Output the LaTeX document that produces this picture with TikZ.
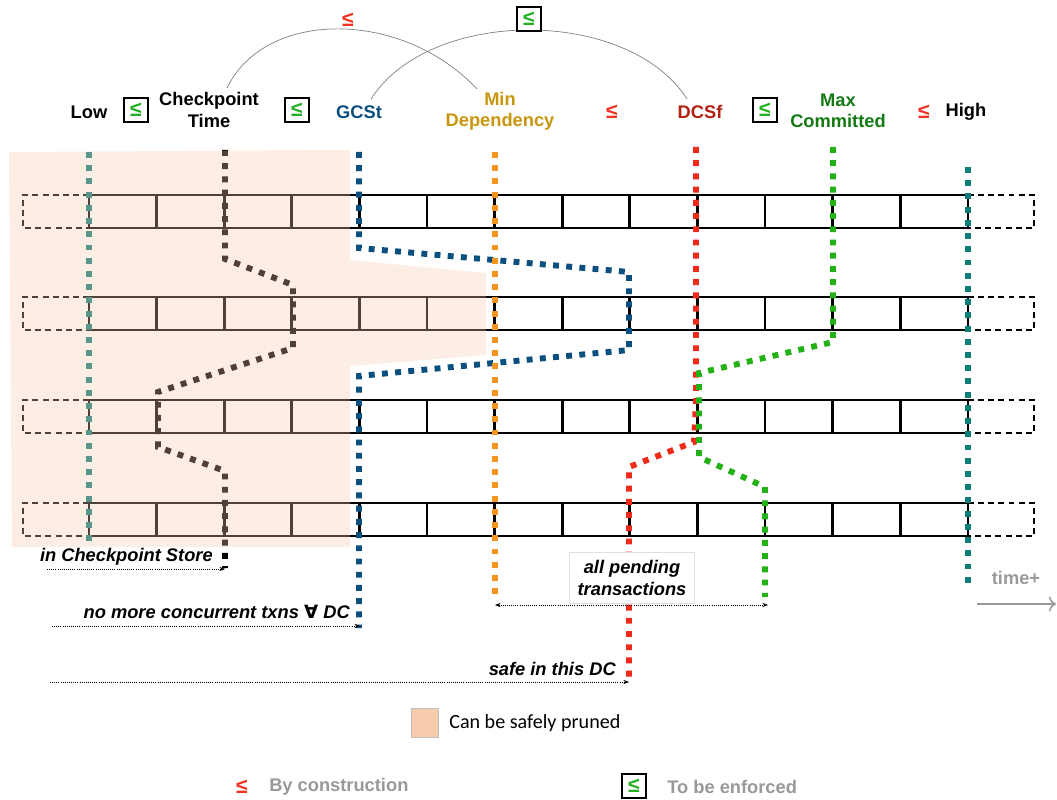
\documentclass[tikz,border=0pt]{standalone}
\usepackage{fontspec}
\setmainfont{Liberation Sans}
\newfontfamily\symfont{DejaVu Sans}
\newfontfamily\calfont{Carlito}
\usetikzlibrary{arrows.meta}

\definecolor{lowteal}{HTML}{0E7C78}
\definecolor{gcstblue}{HTML}{0A4F7E}
\definecolor{deporange}{HTML}{F7941D}
\definecolor{dcsred}{HTML}{EE2A1B}
\definecolor{maxgreen}{HTML}{22B217}
\definecolor{deptext}{HTML}{C8960C}
\definecolor{dcstext}{HTML}{B22011}
\definecolor{maxtext}{HTML}{137A13}
\definecolor{leqred}{HTML}{EE3322}
\definecolor{leqgreen}{HTML}{22B022}
\definecolor{peach}{HTML}{F8CBAD}
\definecolor{legendgray}{HTML}{999999}

\newcommand{\lblsize}{\fontsize{13pt}{15pt}\selectfont}
\newcommand{\leqsize}{\fontsize{15pt}{15pt}\selectfont}

\begin{document}
\begin{tikzpicture}[x=0.025cm, y=-0.025cm,
  lbl/.style={font=\bfseries\lblsize, align=center, inner sep=0pt},
  note/.style={font=\bfseries\itshape\lblsize, inner sep=0pt},
  rowline/.style={line width=2.1pt},
  ghost/.style={line width=2.1pt, dash pattern=on 4.2pt off 3pt},
  dotline/.style={line width=4.2pt, dash pattern=on 4.2pt off 5.2pt},
  arc/.style={gray, line width=0.5pt},
  lenote/.style={line width=0.5pt, densely dotted, -{Stealth[length=4pt]}},
  byc/.style={text=leqred, font=\bfseries\leqsize, inner sep=0pt},
  enf/.style={draw, line width=1.2pt, fill=white, minimum size=0.6cm, inner sep=0pt,
              text=leqgreen, font=\bfseries\leqsize}]

  \useasboundingbox (0,0) rectangle (1057,800);

  % Rows of slots
  \foreach \yt in {195,297,400,503} {
    \draw[rowline] (89,\yt) rectangle (968,\yt+33);
    \foreach \k in {1,...,12}
      \draw[rowline] (89+67.6*\k,\yt) -- (89+67.6*\k,\yt+33);
    \draw[ghost] (89,\yt) -- (23,\yt) -- (23,\yt+33) -- (89,\yt+33);
    \draw[ghost] (968,\yt) -- (1034,\yt) -- (1034,\yt+33) -- (968,\yt+33);
  }

  % Cuts
  \draw[dotline, lowteal] (89,152) -- (89,545);
  \draw[dotline, lowteal] (968,167) -- (968,587);
  \draw[dotline, black] (225,150) -- (225,259) -- (293,285) -- (293,348) -- (158,392)
    -- (158,447) -- (225,471) -- (225,568);
  \draw[dotline, gcstblue] (359,152) -- (359,248) -- (629,272) -- (629,350) -- (359,376)
    -- (359,628);
  \draw[dotline, deporange] (495,152) -- (495,598);
  \draw[dotline, dcsred] (696,147) -- (696,400) -- (694,442) -- (629,467) -- (629,682);
  \draw[dotline, maxgreen] (833,147) -- (833,342) -- (699,373) -- (699,457) -- (765,487)
    -- (765,597);

  % Pruned area
  \fill[peach, fill opacity=0.32] (9,152) -- (350,150) -- (350,260) -- (486,273)
    -- (486,355) -- (350,366) -- (350,547) -- (12,547) -- cycle;

  % Labels
  \node[lbl] (low) at (89,112) {Low};
  \node[enf] (le1) at (136,110) {≤};
  \node[lbl] (ckpt) at (209,110) {Checkpoint\\Time};
  \node[enf] (le2) at (297,110) {≤};
  \node[lbl, text=gcstblue] (gcst) at (359,112) {GCSt};
  \node[lbl, text=deptext] (mindep) at (500,111) {Min\\Dependency};
  \node[byc] (le3) at (612,112) {≤};
  \node[lbl, text=dcstext] (dcsf) at (700,112) {DCSf};
  \node[enf] (le4) at (765,110) {≤};
  \node[lbl, text=maxtext] (maxc) at (838,111) {Max\\Committed};
  \node[byc] (le5) at (924,112) {≤};
  \node[lbl] (high) at (966,112) {High};

  % Arcs between non adjacent bounds
  \coordinate (A1) at (227,88);
  \coordinate (A2) at (477,89);
  \coordinate (B1) at (371,99);
  \coordinate (B2) at (687,99);
  \draw[arc] (A1) .. controls (265,9) and (402,9) .. (A2);
  \node[byc] (top1) at (348,20) {≤};
  \draw[arc] (B1) .. controls (430,7) and (628,7) .. (B2);
  \node[enf] (top2) at (529,19) {≤};

  % Notes
  \coordinate (n1a) at (47,569);
  \coordinate (n1b) at (225,569);
  \draw[lenote] (n1a) -- (n1b);
  \node[note, anchor=east] (n1) at (213,557) {in Checkpoint Store};
  \coordinate (n2a) at (52,626);
  \coordinate (n2b) at (360,626);
  \draw[lenote] (n2a) -- (n2b);
  \node[note, anchor=east] (n2) at (350,612) {no more concurrent txns {\symfont ∀} DC};
  \coordinate (n3a) at (50,682);
  \coordinate (n3b) at (629,682);
  \draw[lenote] (n3a) -- (n3b);
  \node[note, anchor=east] (n3) at (616,669) {safe in this DC};
  \coordinate (n4a) at (495,605);
  \coordinate (n4b) at (768,605);
  \draw[lenote, {Stealth[length=4pt]}-{Stealth[length=4pt]}] (n4a) -- (n4b);
  \node[note, align=center, draw=black!12, fill=white, inner sep=3pt, minimum width=3.125cm,
    minimum height=1.275cm] (n4) at (632,578) {all pending\\transactions};

  % Time axis
  \node[lbl, text=legendgray] (time) at (1016,578) {time+};
  \coordinate (t1) at (977,604);
  \coordinate (t2) at (1056,604);
  \draw[legendgray, line width=1.1pt, -{To[length=5pt]}] (t1) -- (t2);

  % Legend
  \node[draw=black!25, fill=peach, minimum width=0.675cm, minimum height=0.725cm,
    inner sep=0pt] (lgbox) at (424.5,722.5) {};
  \node[anchor=west, font=\calfont\fontsize{14.3pt}{16pt}\selectfont, inner sep=0pt]
    (lgtext) at (449,723) {Can be safely pruned};
  \node[byc] (lgby) at (242,787) {≤};
  \node[anchor=west, text=legendgray, font=\bfseries\fontsize{13pt}{15pt}\selectfont,
    inner sep=0pt] (lgbytext) at (269,787) {By construction};
  \node[enf] (lgenf) at (634,786) {≤};
  \node[anchor=west, text=legendgray, font=\bfseries\fontsize{13pt}{15pt}\selectfont,
    inner sep=0pt] (lgenftext) at (667,787) {To be enforced};

\end{tikzpicture}
\end{document}
